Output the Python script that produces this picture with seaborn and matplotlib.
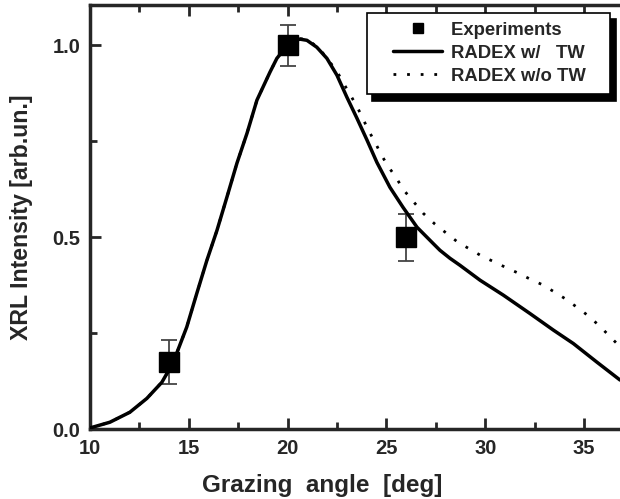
import numpy as np
import pandas as pd
import matplotlib
matplotlib.use("Agg")
import matplotlib.pyplot as plt
from matplotlib.ticker import MultipleLocator, FormatStrFormatter
from matplotlib.legend_handler import HandlerLine2D
import seaborn as sns

# experimental points
exp_angle = [14, 20, 26]
exp_intensity = [0.175, 1.0, 0.50]
exp_err = [0.058, 0.053, 0.061]

# RADEX with TW
tw_angle = [10.0, 11.01, 12.02, 12.88, 13.64, 14.2, 14.9, 15.41, 15.92, 16.43,
            16.93, 17.44, 17.95, 18.45, 19.11, 19.46, 20.0, 20.3, 20.63, 20.98,
            21.48, 21.99, 22.5, 23.0, 23.51, 24.02, 24.52, 25.18, 25.84, 26.55,
            27.36, 27.71, 28.22, 28.72, 29.74, 30.92, 32.27, 33.45, 34.46, 35.64, 36.82]
tw_intensity = [0.003, 0.018, 0.044, 0.08, 0.122, 0.172, 0.266, 0.354, 0.44, 0.518,
                0.604, 0.693, 0.771, 0.857, 0.93, 0.966, 1.0, 1.012, 1.016, 1.013,
                0.995, 0.966, 0.922, 0.865, 0.81, 0.753, 0.695, 0.63, 0.578, 0.526,
                0.484, 0.466, 0.445, 0.427, 0.388, 0.349, 0.301, 0.258, 0.223, 0.175, 0.128]

# RADEX without TW
notw_angle = [10.0, 11.01, 12.02, 12.88, 13.64, 14.2, 14.9, 15.41, 15.92, 16.43,
              16.93, 17.44, 17.95, 18.45, 19.11, 19.46, 20.0, 20.3, 20.63, 20.98,
              21.6, 22.04, 22.5, 22.8, 23.16, 23.51, 23.8, 24.12, 24.43, 24.73,
              25.08, 25.49, 25.84, 26.35, 26.86, 27.46, 28.05, 28.64, 29.26, 29.85,
              30.45, 31.05, 31.65, 32.23, 32.86, 33.45, 34.04, 34.63, 35.25, 35.84,
              36.43, 36.82]
notw_intensity = [0.003, 0.018, 0.044, 0.08, 0.122, 0.172, 0.266, 0.354, 0.44, 0.518,
                  0.604, 0.693, 0.771, 0.857, 0.93, 0.966, 1.0, 1.012, 1.017, 1.016,
                  0.992, 0.963, 0.932, 0.904, 0.872, 0.841, 0.81, 0.776, 0.747, 0.716,
                  0.685, 0.656, 0.625, 0.594, 0.5625, 0.534, 0.51, 0.486, 0.468, 0.45,
                  0.436, 0.421, 0.407, 0.392, 0.377, 0.359, 0.34, 0.318, 0.294, 0.266,
                  0.235, 0.215]

legend_labels = ["Experiments", "RADEX w/   TW", "RADEX w/o TW"]


class PaddedLine(HandlerLine2D):
    """ line handle with some empty room on its left """

    def __init__(self, left_pad, **kw):
        super().__init__(**kw)
        self.left_pad = left_pad

    def create_artists(self, legend, orig_handle, xdescent, ydescent,
                       width, height, fontsize, trans):
        pad = self.left_pad * fontsize
        return super().create_artists(legend, orig_handle, xdescent - pad, ydescent,
                                      width - pad, height, fontsize, trans)


def main():
    sns.set_style("ticks")
    plt.rcParams["font.family"] = ["Liberation Sans", "DejaVu Sans"]
    plt.rcParams["font.weight"] = "bold"

    fig = plt.figure(figsize=(6.2, 4.99), dpi=100)
    ax = fig.add_axes([0.145, 0.14, 0.855, 0.85])

    df_tw = pd.DataFrame({"angle": tw_angle, "intensity": tw_intensity})
    df_notw = pd.DataFrame({"angle": notw_angle, "intensity": notw_intensity})

    ax.errorbar(exp_angle, exp_intensity, yerr=exp_err, fmt="none",
                ecolor="#444444", elinewidth=1.3, capsize=5.5, capthick=1.3, zorder=2)
    sns.lineplot(data=df_tw, x="angle", y="intensity", ax=ax, color="black",
                 linewidth=2.5, label=legend_labels[1], zorder=3)
    sns.lineplot(data=df_notw, x="angle", y="intensity", ax=ax, color="black",
                 linewidth=2.0, linestyle=(0, (1, 3.9)), label=legend_labels[2], zorder=3)
    ax.plot(exp_angle, exp_intensity, linestyle="none", marker="s", markersize=14,
            color="black", label=legend_labels[0], zorder=4)

    ax.set_xlim(10, 36.82)
    ax.set_ylim(0, 1.105)
    ax.xaxis.set_major_locator(MultipleLocator(5))
    ax.xaxis.set_minor_locator(MultipleLocator(2.5))
    ax.yaxis.set_major_locator(MultipleLocator(0.5))
    ax.yaxis.set_minor_locator(MultipleLocator(0.25))
    ax.yaxis.set_major_formatter(FormatStrFormatter("%.1f"))

    ax.tick_params(which="both", direction="in", top=True, right=False, width=2)
    ax.tick_params(which="major", length=8, labelsize=14.5, pad=7)
    ax.tick_params(which="minor", length=5)
    for s in ["left", "bottom", "top"]:
        ax.spines[s].set_linewidth(2.5)
    ax.spines["right"].set_visible(False)

    ax.set_xlabel("Grazing  angle  [deg]", fontsize=17.5, fontweight="bold")
    ax.xaxis.set_label_coords(0.438, -0.105)
    ax.set_ylabel("XRL Intensity [arb.un.]", fontsize=16.7, fontweight="bold", labelpad=14)

    handles, labels = ax.get_legend_handles_labels()
    hs = [handles[labels.index(l)] for l in legend_labels]
    pad_labels = [l + "   " for l in legend_labels]
    leg = ax.legend(hs, pad_labels,
                    loc="upper right", bbox_to_anchor=(0.999, 1.004),
                    fancybox=False, framealpha=1, edgecolor="black",
                    shadow={"color": "black", "alpha": 1, "ox": 4, "oy": -5},
                    prop={"weight": "bold", "size": 13.3}, markerscale=0.55,
                    handler_map={h: PaddedLine(0.95) for h in hs},
                    handlelength=3.6, handletextpad=0.45, borderpad=0.5,
                    labelspacing=0.32)
    leg.get_frame().set_linewidth(1.2)

    fig.savefig("out.png", dpi=100)


if __name__ == '__main__':
    main()
